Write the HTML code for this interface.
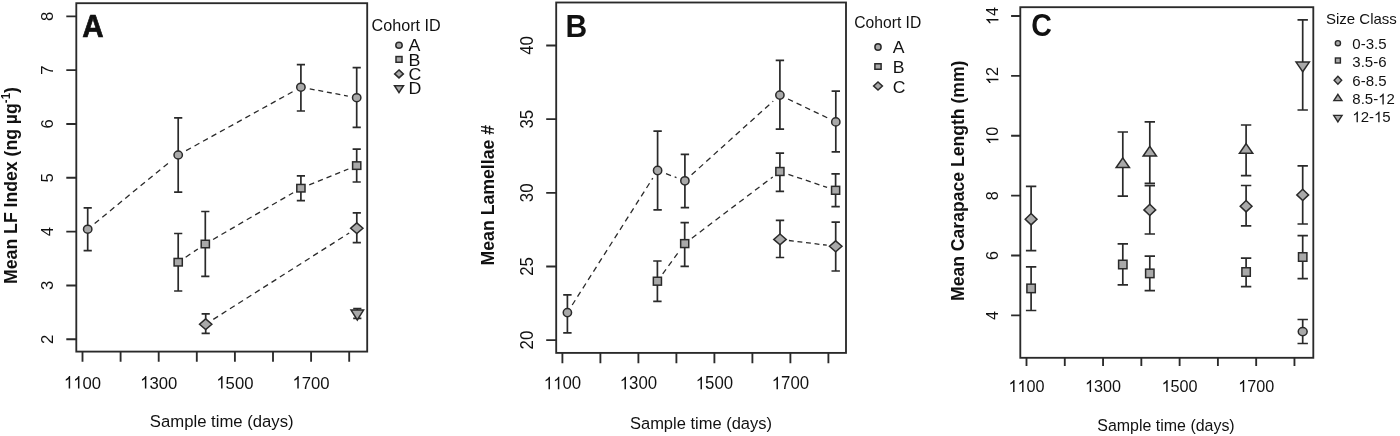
<!DOCTYPE html>
<html><head><meta charset="utf-8"><title>Figure</title>
<style>
html,body{margin:0;padding:0;background:#fff;}
body{width:1400px;height:436px;overflow:hidden;}
svg{display:block;filter:grayscale(100%);}
text{font-family:"Liberation Sans",sans-serif;fill:#111;}
</style></head>
<body>
<svg width="1400" height="436" viewBox="0 0 1400 436">
<rect width="1400" height="436" fill="#fff"/>
<rect x="76.3" y="3.2" width="290.9" height="348.4" fill="none" stroke="#2a2a2a" stroke-width="1.85"/>
<path d="M82.5 351.6V361.8M120.6 351.6V361.8M158.7 351.6V361.8M196.8 351.6V361.8M234.9 351.6V361.8M273 351.6V361.8M311.1 351.6V361.8M349.2 351.6V361.8M76.3 339.28H66.3M76.3 285.45H66.3M76.3 231.62H66.3M76.3 177.79H66.3M76.3 123.96H66.3M76.3 70.13H66.3M76.3 16.3H66.3" stroke="#2a2a2a" stroke-width="1.85" fill="none"/>
<g transform="translate(82.5 388.6) scale(1 1.04)"><path transform="translate(-18.57 0) scale(0.00815 -0.00815)" d="M763 0L583 0L583 1147C540 1106 483 1064 413 1023C343 982 280 951 224 930L224 1104C325 1151 413 1209 488 1276C563 1343 616 1409 647 1472L763 1472Z" fill="#111"/><path transform="translate(-9.29 0) scale(0.00815 -0.00815)" d="M763 0L583 0L583 1147C540 1106 483 1064 413 1023C343 982 280 951 224 930L224 1104C325 1151 413 1209 488 1276C563 1343 616 1409 647 1472L763 1472Z" fill="#111"/><text x="0" font-size="16.7">00</text></g>
<g transform="translate(158.7 388.6) scale(1 1.04)"><path transform="translate(-18.57 0) scale(0.00815 -0.00815)" d="M763 0L583 0L583 1147C540 1106 483 1064 413 1023C343 982 280 951 224 930L224 1104C325 1151 413 1209 488 1276C563 1343 616 1409 647 1472L763 1472Z" fill="#111"/><text x="-9.29" font-size="16.7">300</text></g>
<g transform="translate(234.9 388.6) scale(1 1.04)"><path transform="translate(-18.57 0) scale(0.00815 -0.00815)" d="M763 0L583 0L583 1147C540 1106 483 1064 413 1023C343 982 280 951 224 930L224 1104C325 1151 413 1209 488 1276C563 1343 616 1409 647 1472L763 1472Z" fill="#111"/><text x="-9.29" font-size="16.7">500</text></g>
<g transform="translate(311.1 388.6) scale(1 1.04)"><path transform="translate(-18.57 0) scale(0.00815 -0.00815)" d="M763 0L583 0L583 1147C540 1106 483 1064 413 1023C343 982 280 951 224 930L224 1104C325 1151 413 1209 488 1276C563 1343 616 1409 647 1472L763 1472Z" fill="#111"/><text x="-9.29" font-size="16.7">700</text></g>
<g transform="translate(53.4 339.28) rotate(-90) scale(1 1.04)"><text x="-4.64" font-size="16.7">2</text></g>
<g transform="translate(53.4 285.45) rotate(-90) scale(1 1.04)"><text x="-4.64" font-size="16.7">3</text></g>
<g transform="translate(53.4 231.62) rotate(-90) scale(1 1.04)"><text x="-4.64" font-size="16.7">4</text></g>
<g transform="translate(53.4 177.79) rotate(-90) scale(1 1.04)"><text x="-4.64" font-size="16.7">5</text></g>
<g transform="translate(53.4 123.96) rotate(-90) scale(1 1.04)"><text x="-4.64" font-size="16.7">6</text></g>
<g transform="translate(53.4 70.13) rotate(-90) scale(1 1.04)"><text x="-4.64" font-size="16.7">7</text></g>
<g transform="translate(53.4 16.3) rotate(-90) scale(1 1.04)"><text x="-4.64" font-size="16.7">8</text></g>
<text transform="translate(221.7 427.4) scale(1.0 1.04)" font-size="16.7" text-anchor="middle">Sample time (days)</text>
<text transform="translate(17.2 185.5) rotate(-90) scale(1 1.04)" font-size="17.65" text-anchor="middle" font-weight="bold">Mean LF Index (ng µg<tspan font-size="11.5" dy="-7">-1</tspan><tspan dy="7">)</tspan></text>
<text transform="translate(82.3 36.7) scale(1.0 1.055)" font-size="29.6" text-anchor="start" font-weight="bold" stroke="#111" stroke-width="0.7" stroke-linejoin="round">A</text>
<path d="M94.66 223.49L171.24 160.71" stroke="#2a2a2a" stroke-width="1.3" fill="none" stroke-dasharray="5.64 4.26"/>
<path d="M186.08 150.65L293.02 91.55" stroke="#2a2a2a" stroke-width="1.3" fill="none" stroke-dasharray="5.52 4.16"/>
<path d="M309.74 88.86L347.86 96.04" stroke="#2a2a2a" stroke-width="1.3" fill="none" stroke-dasharray="4.97 3.75"/>
<path d="M185.67 257.18L197.83 249.02" stroke="#2a2a2a" stroke-width="1.3" fill="none" stroke-dasharray="5.64 4.26"/>
<path d="M213.07 239.46L293.13 192.74" stroke="#2a2a2a" stroke-width="1.3" fill="none" stroke-dasharray="5.56 4.19"/>
<path d="M309.24 184.82L348.36 168.98" stroke="#2a2a2a" stroke-width="1.3" fill="none" stroke-dasharray="5.32 4.01"/>
<path d="M213.3 319.37L349.2 233.03" stroke="#2a2a2a" stroke-width="1.3" fill="none" stroke-dasharray="5.62 4.24"/>
<path d="M87.7 207.8V250.6M83.6 207.8H91.8M83.6 250.6H91.8" stroke="#2a2a2a" stroke-width="1.7" fill="none"/>
<path d="M178.2 117.9V192.2M174.1 117.9H182.3M174.1 192.2H182.3" stroke="#2a2a2a" stroke-width="1.7" fill="none"/>
<path d="M300.9 64.7V111M296.8 64.7H305M296.8 111H305" stroke="#2a2a2a" stroke-width="1.7" fill="none"/>
<path d="M356.7 67.7V127.3M352.6 67.7H360.8M352.6 127.3H360.8" stroke="#2a2a2a" stroke-width="1.7" fill="none"/>
<path d="M178.2 233.5V291M174.1 233.5H182.3M174.1 291H182.3" stroke="#2a2a2a" stroke-width="1.7" fill="none"/>
<path d="M205.3 211.5V276.4M201.2 211.5H209.4M201.2 276.4H209.4" stroke="#2a2a2a" stroke-width="1.7" fill="none"/>
<path d="M300.9 175.8V200.6M296.8 175.8H305M296.8 200.6H305" stroke="#2a2a2a" stroke-width="1.7" fill="none"/>
<path d="M356.7 149.2V182M352.6 149.2H360.8M352.6 182H360.8" stroke="#2a2a2a" stroke-width="1.7" fill="none"/>
<path d="M205.7 313.9V333.4M201.6 313.9H209.8M201.6 333.4H209.8" stroke="#2a2a2a" stroke-width="1.7" fill="none"/>
<path d="M356.8 212.9V242.6M352.7 212.9H360.9M352.7 242.6H360.9" stroke="#2a2a2a" stroke-width="1.7" fill="none"/>
<path d="M357.3 308.6V318.3M353.2 308.6H361.4M353.2 318.3H361.4" stroke="#2a2a2a" stroke-width="1.7" fill="none"/>
<ellipse cx="87.7" cy="229.2" rx="4.2" ry="4" fill="#a9a9a9" stroke="#2a2a2a" stroke-width="1.5"/>
<ellipse cx="178.2" cy="155" rx="4.2" ry="4" fill="#a9a9a9" stroke="#2a2a2a" stroke-width="1.5"/>
<ellipse cx="300.9" cy="87.2" rx="4.2" ry="4" fill="#a9a9a9" stroke="#2a2a2a" stroke-width="1.5"/>
<ellipse cx="356.7" cy="97.7" rx="4.2" ry="4" fill="#a9a9a9" stroke="#2a2a2a" stroke-width="1.5"/>
<rect x="174.1" y="258.45" width="8.2" height="7.5" fill="#a9a9a9" stroke="#2a2a2a" stroke-width="1.5"/>
<rect x="201.2" y="240.25" width="8.2" height="7.5" fill="#a9a9a9" stroke="#2a2a2a" stroke-width="1.5"/>
<rect x="296.8" y="184.45" width="8.2" height="7.5" fill="#a9a9a9" stroke="#2a2a2a" stroke-width="1.5"/>
<rect x="352.6" y="161.85" width="8.2" height="7.5" fill="#a9a9a9" stroke="#2a2a2a" stroke-width="1.5"/>
<path d="M205.7 318.85L211.85 324.2L205.7 329.55L199.55 324.2Z" fill="#a9a9a9" stroke="#2a2a2a" stroke-width="1.5" stroke-linejoin="miter"/>
<path d="M356.8 222.85L362.95 228.2L356.8 233.55L350.65 228.2Z" fill="#a9a9a9" stroke="#2a2a2a" stroke-width="1.5" stroke-linejoin="miter"/>
<path d="M357.3 320L363.55 310.1L351.05 310.1Z" fill="#a9a9a9" stroke="#2a2a2a" stroke-width="1.5" stroke-linejoin="miter"/>
<text transform="translate(371.5 31.4) scale(1 1.07)" font-size="16.2" text-anchor="start">Cohort ID</text>
<ellipse cx="399" cy="45.3" rx="3.2" ry="3.05" fill="#a9a9a9" stroke="#2a2a2a" stroke-width="1.5"/>
<text transform="translate(408.6 51.2) scale(1.1 1.04)" font-size="16.2" text-anchor="start">A</text>
<rect x="396" y="56.55" width="6" height="5.7" fill="#a9a9a9" stroke="#2a2a2a" stroke-width="1.5"/>
<text transform="translate(408.6 65.5) scale(1.1 1.04)" font-size="16.2" text-anchor="start">B</text>
<path d="M399 69.9L403.35 73.9L399 77.9L394.65 73.9Z" fill="#a9a9a9" stroke="#2a2a2a" stroke-width="1.5" stroke-linejoin="miter"/>
<text transform="translate(408.6 79.8) scale(1.1 1.04)" font-size="16.2" text-anchor="start">C</text>
<path d="M399 92.67L403.5 85.67L394.5 85.67Z" fill="#a9a9a9" stroke="#2a2a2a" stroke-width="1.5" stroke-linejoin="miter"/>
<text transform="translate(408.6 94.1) scale(1.1 1.04)" font-size="16.2" text-anchor="start">D</text>
<rect x="556.2" y="2.5" width="289.8" height="350.4" fill="none" stroke="#2a2a2a" stroke-width="1.85"/>
<path d="M562.4 352.9V363.3M600.4 352.9V363.3M638.4 352.9V363.3M676.4 352.9V363.3M714.4 352.9V363.3M752.4 352.9V363.3M790.4 352.9V363.3M828.4 352.9V363.3M556.2 340.1H546.2M556.2 266.45H546.2M556.2 192.8H546.2M556.2 119.15H546.2M556.2 45.5H546.2" stroke="#2a2a2a" stroke-width="1.85" fill="none"/>
<g transform="translate(562.4 389.3) scale(1 1.04)"><path transform="translate(-18.68 0) scale(0.00820 -0.00820)" d="M763 0L583 0L583 1147C540 1106 483 1064 413 1023C343 982 280 951 224 930L224 1104C325 1151 413 1209 488 1276C563 1343 616 1409 647 1472L763 1472Z" fill="#111"/><path transform="translate(-9.34 0) scale(0.00820 -0.00820)" d="M763 0L583 0L583 1147C540 1106 483 1064 413 1023C343 982 280 951 224 930L224 1104C325 1151 413 1209 488 1276C563 1343 616 1409 647 1472L763 1472Z" fill="#111"/><text x="0" font-size="16.8">00</text></g>
<g transform="translate(638.4 389.3) scale(1 1.04)"><path transform="translate(-18.68 0) scale(0.00820 -0.00820)" d="M763 0L583 0L583 1147C540 1106 483 1064 413 1023C343 982 280 951 224 930L224 1104C325 1151 413 1209 488 1276C563 1343 616 1409 647 1472L763 1472Z" fill="#111"/><text x="-9.34" font-size="16.8">300</text></g>
<g transform="translate(714.4 389.3) scale(1 1.04)"><path transform="translate(-18.68 0) scale(0.00820 -0.00820)" d="M763 0L583 0L583 1147C540 1106 483 1064 413 1023C343 982 280 951 224 930L224 1104C325 1151 413 1209 488 1276C563 1343 616 1409 647 1472L763 1472Z" fill="#111"/><text x="-9.34" font-size="16.8">500</text></g>
<g transform="translate(790.4 389.3) scale(1 1.04)"><path transform="translate(-18.68 0) scale(0.00820 -0.00820)" d="M763 0L583 0L583 1147C540 1106 483 1064 413 1023C343 982 280 951 224 930L224 1104C325 1151 413 1209 488 1276C563 1343 616 1409 647 1472L763 1472Z" fill="#111"/><text x="-9.34" font-size="16.8">700</text></g>
<g transform="translate(532.9 340.1) rotate(-90) scale(1 1.04)"><text x="-9.34" font-size="16.8">20</text></g>
<g transform="translate(532.9 266.45) rotate(-90) scale(1 1.04)"><text x="-9.34" font-size="16.8">25</text></g>
<g transform="translate(532.9 192.8) rotate(-90) scale(1 1.04)"><text x="-9.34" font-size="16.8">30</text></g>
<g transform="translate(532.9 119.15) rotate(-90) scale(1 1.04)"><text x="-9.34" font-size="16.8">35</text></g>
<g transform="translate(532.9 45.5) rotate(-90) scale(1 1.04)"><text x="-9.34" font-size="16.8">40</text></g>
<text transform="translate(701 428.9) scale(1.0 1.04)" font-size="16.5" text-anchor="middle">Sample time (days)</text>
<text transform="translate(494.3 195.2) rotate(-90) scale(1 1.04)" font-size="17.7" text-anchor="middle" font-weight="bold">Mean Lamellae #</text>
<text transform="translate(565.5 36.6) scale(1.0 1.05)" font-size="30.0" text-anchor="start" font-weight="bold">B</text>
<path d="M572.22 305L652.78 178.1" stroke="#2a2a2a" stroke-width="1.3" fill="none" stroke-dasharray="5.64 4.26"/>
<path d="M666.02 173.68L676.48 177.62" stroke="#2a2a2a" stroke-width="1.3" fill="none" stroke-dasharray="5.28 3.98"/>
<path d="M691.58 174.77L773.22 101.13" stroke="#2a2a2a" stroke-width="1.3" fill="none" stroke-dasharray="5.64 4.26"/>
<path d="M788.02 98.99L827.68 118.01" stroke="#2a2a2a" stroke-width="1.3" fill="none" stroke-dasharray="5.42 4.09"/>
<path d="M662.69 273.92L679.41 250.88" stroke="#2a2a2a" stroke-width="1.3" fill="none" stroke-dasharray="5.64 4.26"/>
<path d="M691.87 238.17L772.73 176.93" stroke="#2a2a2a" stroke-width="1.3" fill="none" stroke-dasharray="5.64 4.26"/>
<path d="M788.43 174.38L827.07 187.42" stroke="#2a2a2a" stroke-width="1.3" fill="none" stroke-dasharray="5.22 3.94"/>
<path d="M788.93 240.51L826.77 245.19" stroke="#2a2a2a" stroke-width="1.3" fill="none" stroke-dasharray="4.9 3.7"/>
<path d="M567.4 294.8V332.8M563.2 294.8H571.6M563.2 332.8H571.6" stroke="#2a2a2a" stroke-width="1.7" fill="none"/>
<path d="M657.6 131.2V209.8M653.4 131.2H661.8M653.4 209.8H661.8" stroke="#2a2a2a" stroke-width="1.7" fill="none"/>
<path d="M684.9 154.3V207.7M680.7 154.3H689.1M680.7 207.7H689.1" stroke="#2a2a2a" stroke-width="1.7" fill="none"/>
<path d="M779.9 60.3V129.2M775.7 60.3H784.1M775.7 129.2H784.1" stroke="#2a2a2a" stroke-width="1.7" fill="none"/>
<path d="M835.8 91.1V151.9M831.6 91.1H840M831.6 151.9H840" stroke="#2a2a2a" stroke-width="1.7" fill="none"/>
<path d="M657.4 261V301.4M653.2 261H661.6M653.2 301.4H661.6" stroke="#2a2a2a" stroke-width="1.7" fill="none"/>
<path d="M684.7 222.6V266.3M680.5 222.6H688.9M680.5 266.3H688.9" stroke="#2a2a2a" stroke-width="1.7" fill="none"/>
<path d="M779.9 153.2V191.3M775.7 153.2H784.1M775.7 191.3H784.1" stroke="#2a2a2a" stroke-width="1.7" fill="none"/>
<path d="M835.6 173.9V206.7M831.4 173.9H839.8M831.4 206.7H839.8" stroke="#2a2a2a" stroke-width="1.7" fill="none"/>
<path d="M780 220.4V257.5M775.8 220.4H784.2M775.8 257.5H784.2" stroke="#2a2a2a" stroke-width="1.7" fill="none"/>
<path d="M835.7 222.2V271M831.5 222.2H839.9M831.5 271H839.9" stroke="#2a2a2a" stroke-width="1.7" fill="none"/>
<ellipse cx="567.4" cy="312.6" rx="4.15" ry="4.15" fill="#a9a9a9" stroke="#2a2a2a" stroke-width="1.5"/>
<ellipse cx="657.6" cy="170.5" rx="4.15" ry="4.15" fill="#a9a9a9" stroke="#2a2a2a" stroke-width="1.5"/>
<ellipse cx="684.9" cy="180.8" rx="4.15" ry="4.15" fill="#a9a9a9" stroke="#2a2a2a" stroke-width="1.5"/>
<ellipse cx="779.9" cy="95.1" rx="4.15" ry="4.15" fill="#a9a9a9" stroke="#2a2a2a" stroke-width="1.5"/>
<ellipse cx="835.8" cy="121.9" rx="4.15" ry="4.15" fill="#a9a9a9" stroke="#2a2a2a" stroke-width="1.5"/>
<rect x="653.35" y="277.25" width="8.1" height="7.9" fill="#a9a9a9" stroke="#2a2a2a" stroke-width="1.5"/>
<rect x="680.65" y="239.65" width="8.1" height="7.9" fill="#a9a9a9" stroke="#2a2a2a" stroke-width="1.5"/>
<rect x="775.85" y="167.55" width="8.1" height="7.9" fill="#a9a9a9" stroke="#2a2a2a" stroke-width="1.5"/>
<rect x="831.55" y="186.35" width="8.1" height="7.9" fill="#a9a9a9" stroke="#2a2a2a" stroke-width="1.5"/>
<path d="M780 233.95L786.25 239.4L780 244.85L773.75 239.4Z" fill="#a9a9a9" stroke="#2a2a2a" stroke-width="1.5" stroke-linejoin="miter"/>
<path d="M835.7 240.85L841.95 246.3L835.7 251.75L829.45 246.3Z" fill="#a9a9a9" stroke="#2a2a2a" stroke-width="1.5" stroke-linejoin="miter"/>
<text transform="translate(854.2 28) scale(0.98 1.04)" font-size="16.0" text-anchor="start">Cohort ID</text>
<ellipse cx="878" cy="47" rx="3.1" ry="3.25" fill="#a9a9a9" stroke="#2a2a2a" stroke-width="1.5"/>
<text transform="translate(892.8 53.2) scale(1.1 1.04)" font-size="16.0" text-anchor="start">A</text>
<rect x="874.9" y="63.75" width="6.2" height="5.5" fill="#a9a9a9" stroke="#2a2a2a" stroke-width="1.5"/>
<text transform="translate(892.8 72.5) scale(1.1 1.04)" font-size="16.0" text-anchor="start">B</text>
<path d="M878 82L882.4 86L878 90L873.6 86Z" fill="#a9a9a9" stroke="#2a2a2a" stroke-width="1.5" stroke-linejoin="miter"/>
<text transform="translate(892.8 92.5) scale(1.1 1.04)" font-size="16.0" text-anchor="start">C</text>
<rect x="1020.3" y="7.2" width="293" height="350.6" fill="none" stroke="#2a2a2a" stroke-width="1.85"/>
<path d="M1026.5 357.8V366M1064.78 357.8V366M1103.06 357.8V366M1141.34 357.8V366M1179.62 357.8V366M1217.9 357.8V366M1256.18 357.8V366M1294.46 357.8V366M1020.3 315.4H1011.1M1020.3 255.52H1011.1M1020.3 195.64H1011.1M1020.3 135.76H1011.1M1020.3 75.88H1011.1M1020.3 16H1011.1" stroke="#2a2a2a" stroke-width="1.85" fill="none"/>
<g transform="translate(1026.5 392.1) scale(1 1.04)"><path transform="translate(-18.01 0) scale(0.00791 -0.00791)" d="M763 0L583 0L583 1147C540 1106 483 1064 413 1023C343 982 280 951 224 930L224 1104C325 1151 413 1209 488 1276C563 1343 616 1409 647 1472L763 1472Z" fill="#111"/><path transform="translate(-9.01 0) scale(0.00791 -0.00791)" d="M763 0L583 0L583 1147C540 1106 483 1064 413 1023C343 982 280 951 224 930L224 1104C325 1151 413 1209 488 1276C563 1343 616 1409 647 1472L763 1472Z" fill="#111"/><text x="0" font-size="16.2">00</text></g>
<g transform="translate(1103.06 392.1) scale(1 1.04)"><path transform="translate(-18.01 0) scale(0.00791 -0.00791)" d="M763 0L583 0L583 1147C540 1106 483 1064 413 1023C343 982 280 951 224 930L224 1104C325 1151 413 1209 488 1276C563 1343 616 1409 647 1472L763 1472Z" fill="#111"/><text x="-9.01" font-size="16.2">300</text></g>
<g transform="translate(1179.62 392.1) scale(1 1.04)"><path transform="translate(-18.01 0) scale(0.00791 -0.00791)" d="M763 0L583 0L583 1147C540 1106 483 1064 413 1023C343 982 280 951 224 930L224 1104C325 1151 413 1209 488 1276C563 1343 616 1409 647 1472L763 1472Z" fill="#111"/><text x="-9.01" font-size="16.2">500</text></g>
<g transform="translate(1256.18 392.1) scale(1 1.04)"><path transform="translate(-18.01 0) scale(0.00791 -0.00791)" d="M763 0L583 0L583 1147C540 1106 483 1064 413 1023C343 982 280 951 224 930L224 1104C325 1151 413 1209 488 1276C563 1343 616 1409 647 1472L763 1472Z" fill="#111"/><text x="-9.01" font-size="16.2">700</text></g>
<g transform="translate(998.4 315.4) rotate(-90) scale(1 1.04)"><text x="-4.5" font-size="16.2">4</text></g>
<g transform="translate(998.4 255.52) rotate(-90) scale(1 1.04)"><text x="-4.5" font-size="16.2">6</text></g>
<g transform="translate(998.4 195.64) rotate(-90) scale(1 1.04)"><text x="-4.5" font-size="16.2">8</text></g>
<g transform="translate(998.4 135.76) rotate(-90) scale(1 1.04)"><path transform="translate(-9.01 0) scale(0.00791 -0.00791)" d="M763 0L583 0L583 1147C540 1106 483 1064 413 1023C343 982 280 951 224 930L224 1104C325 1151 413 1209 488 1276C563 1343 616 1409 647 1472L763 1472Z" fill="#111"/><text x="0" font-size="16.2">0</text></g>
<g transform="translate(998.4 75.88) rotate(-90) scale(1 1.04)"><path transform="translate(-9.01 0) scale(0.00791 -0.00791)" d="M763 0L583 0L583 1147C540 1106 483 1064 413 1023C343 982 280 951 224 930L224 1104C325 1151 413 1209 488 1276C563 1343 616 1409 647 1472L763 1472Z" fill="#111"/><text x="0" font-size="16.2">2</text></g>
<g transform="translate(998.4 16) rotate(-90) scale(1 1.04)"><path transform="translate(-9.01 0) scale(0.00791 -0.00791)" d="M763 0L583 0L583 1147C540 1106 483 1064 413 1023C343 982 280 951 224 930L224 1104C325 1151 413 1209 488 1276C563 1343 616 1409 647 1472L763 1472Z" fill="#111"/><text x="0" font-size="16.2">4</text></g>
<text transform="translate(1166 430.6) scale(1.0 1.04)" font-size="15.95" text-anchor="middle">Sample time (days)</text>
<text transform="translate(963.5 180.8) rotate(-90) scale(1 1.04)" font-size="17.6" text-anchor="middle" font-weight="bold">Mean Carapace Length (mm)</text>
<text transform="translate(1031.2 36.3) scale(1.0 1.11)" font-size="28.6" text-anchor="start" font-weight="bold">C</text>
<path d="M1031.1 186.4V250.7M1025.9 186.4H1036.3M1025.9 250.7H1036.3" stroke="#2a2a2a" stroke-width="1.7" fill="none"/>
<path d="M1031.1 266.8V310.5M1025.9 266.8H1036.3M1025.9 310.5H1036.3" stroke="#2a2a2a" stroke-width="1.7" fill="none"/>
<path d="M1122.8 132V196.2M1117.6 132H1128M1117.6 196.2H1128" stroke="#2a2a2a" stroke-width="1.7" fill="none"/>
<path d="M1122.8 243.9V284.8M1117.6 243.9H1128M1117.6 284.8H1128" stroke="#2a2a2a" stroke-width="1.7" fill="none"/>
<path d="M1149.8 121.9V183.4M1144.6 121.9H1155M1144.6 183.4H1155" stroke="#2a2a2a" stroke-width="1.7" fill="none"/>
<path d="M1149.8 185.6V234M1144.6 185.6H1155M1144.6 234H1155" stroke="#2a2a2a" stroke-width="1.7" fill="none"/>
<path d="M1149.8 256.1V290.7M1144.6 256.1H1155M1144.6 290.7H1155" stroke="#2a2a2a" stroke-width="1.7" fill="none"/>
<path d="M1246.1 125V175.6M1240.9 125H1251.3M1240.9 175.6H1251.3" stroke="#2a2a2a" stroke-width="1.7" fill="none"/>
<path d="M1246.1 185.5V225.8M1240.9 185.5H1251.3M1240.9 225.8H1251.3" stroke="#2a2a2a" stroke-width="1.7" fill="none"/>
<path d="M1246.1 258.2V286.6M1240.9 258.2H1251.3M1240.9 286.6H1251.3" stroke="#2a2a2a" stroke-width="1.7" fill="none"/>
<path d="M1302.7 19.9V110M1297.5 19.9H1307.9M1297.5 110H1307.9" stroke="#2a2a2a" stroke-width="1.7" fill="none"/>
<path d="M1302.7 165.8V224M1297.5 165.8H1307.9M1297.5 224H1307.9" stroke="#2a2a2a" stroke-width="1.7" fill="none"/>
<path d="M1302.7 235.6V278.7M1297.5 235.6H1307.9M1297.5 278.7H1307.9" stroke="#2a2a2a" stroke-width="1.7" fill="none"/>
<path d="M1302.7 319.5V343.5M1297.5 319.5H1307.9M1297.5 343.5H1307.9" stroke="#2a2a2a" stroke-width="1.7" fill="none"/>
<path d="M1031.1 213.55L1037 219.2L1031.1 224.85L1025.2 219.2Z" fill="#a9a9a9" stroke="#2a2a2a" stroke-width="1.5" stroke-linejoin="miter"/>
<rect x="1026.9" y="284.15" width="8.4" height="8.5" fill="#a9a9a9" stroke="#2a2a2a" stroke-width="1.5"/>
<path d="M1122.8 157.9L1129.45 167.5L1116.15 167.5Z" fill="#a9a9a9" stroke="#2a2a2a" stroke-width="1.5" stroke-linejoin="miter"/>
<rect x="1118.6" y="260.25" width="8.4" height="8.5" fill="#a9a9a9" stroke="#2a2a2a" stroke-width="1.5"/>
<path d="M1149.8 146.4L1156.45 156L1143.15 156Z" fill="#a9a9a9" stroke="#2a2a2a" stroke-width="1.5" stroke-linejoin="miter"/>
<path d="M1149.8 204.25L1155.7 209.9L1149.8 215.55L1143.9 209.9Z" fill="#a9a9a9" stroke="#2a2a2a" stroke-width="1.5" stroke-linejoin="miter"/>
<rect x="1145.6" y="269.15" width="8.4" height="8.5" fill="#a9a9a9" stroke="#2a2a2a" stroke-width="1.5"/>
<path d="M1246.1 143.6L1252.75 153.2L1239.45 153.2Z" fill="#a9a9a9" stroke="#2a2a2a" stroke-width="1.5" stroke-linejoin="miter"/>
<path d="M1246.1 200.55L1252 206.2L1246.1 211.85L1240.2 206.2Z" fill="#a9a9a9" stroke="#2a2a2a" stroke-width="1.5" stroke-linejoin="miter"/>
<rect x="1241.9" y="267.75" width="8.4" height="8.5" fill="#a9a9a9" stroke="#2a2a2a" stroke-width="1.5"/>
<path d="M1302.7 71.7L1309.35 62.1L1296.05 62.1Z" fill="#a9a9a9" stroke="#2a2a2a" stroke-width="1.5" stroke-linejoin="miter"/>
<path d="M1302.7 189.25L1308.6 194.9L1302.7 200.55L1296.8 194.9Z" fill="#a9a9a9" stroke="#2a2a2a" stroke-width="1.5" stroke-linejoin="miter"/>
<rect x="1298.5" y="252.75" width="8.4" height="8.5" fill="#a9a9a9" stroke="#2a2a2a" stroke-width="1.5"/>
<ellipse cx="1302.7" cy="331.6" rx="4.45" ry="4.1" fill="#a9a9a9" stroke="#2a2a2a" stroke-width="1.5"/>
<text transform="translate(1326 23.7)" font-size="15.0" text-anchor="start">Size Class</text>
<ellipse cx="1337.9" cy="43.2" rx="2.6" ry="2.6" fill="#a9a9a9" stroke="#2a2a2a" stroke-width="1.4"/>
<g transform="translate(1352.3 48.9)"><text x="0" font-size="15.0">0-3.5</text></g>
<rect x="1335.4" y="58" width="5" height="5" fill="#a9a9a9" stroke="#2a2a2a" stroke-width="1.4"/>
<g transform="translate(1352.3 67.1)"><text x="0" font-size="15.0">3.5-6</text></g>
<path d="M1337.9 76.3L1341.7 80.3L1337.9 84.3L1334.1 80.3Z" fill="#a9a9a9" stroke="#2a2a2a" stroke-width="1.4" stroke-linejoin="miter"/>
<g transform="translate(1352.3 86.2)"><text x="0" font-size="15.0">6-8.5</text></g>
<path d="M1337.9 94.29L1341.96 100.61L1333.84 100.61Z" fill="#a9a9a9" stroke="#2a2a2a" stroke-width="1.4" stroke-linejoin="miter"/>
<g transform="translate(1352.3 104.4)"><text x="0" font-size="15.0">8.5-</text><path transform="translate(25.85 0) scale(0.00732 -0.00732)" d="M763 0L583 0L583 1147C540 1106 483 1064 413 1023C343 982 280 951 224 930L224 1104C325 1151 413 1209 488 1276C563 1343 616 1409 647 1472L763 1472Z" fill="#111"/><text x="34.19" font-size="15.0">2</text></g>
<path d="M1337.9 121.85L1342.06 115.33L1333.74 115.33Z" fill="#a9a9a9" stroke="#2a2a2a" stroke-width="1.4" stroke-linejoin="miter"/>
<g transform="translate(1352.3 122.3)"><path transform="translate(0 0) scale(0.00732 -0.00732)" d="M763 0L583 0L583 1147C540 1106 483 1064 413 1023C343 982 280 951 224 930L224 1104C325 1151 413 1209 488 1276C563 1343 616 1409 647 1472L763 1472Z" fill="#111"/><text x="8.34" font-size="15.0">2-</text><path transform="translate(21.68 0) scale(0.00732 -0.00732)" d="M763 0L583 0L583 1147C540 1106 483 1064 413 1023C343 982 280 951 224 930L224 1104C325 1151 413 1209 488 1276C563 1343 616 1409 647 1472L763 1472Z" fill="#111"/><text x="30.02" font-size="15.0">5</text></g>
</svg>
</body></html>
